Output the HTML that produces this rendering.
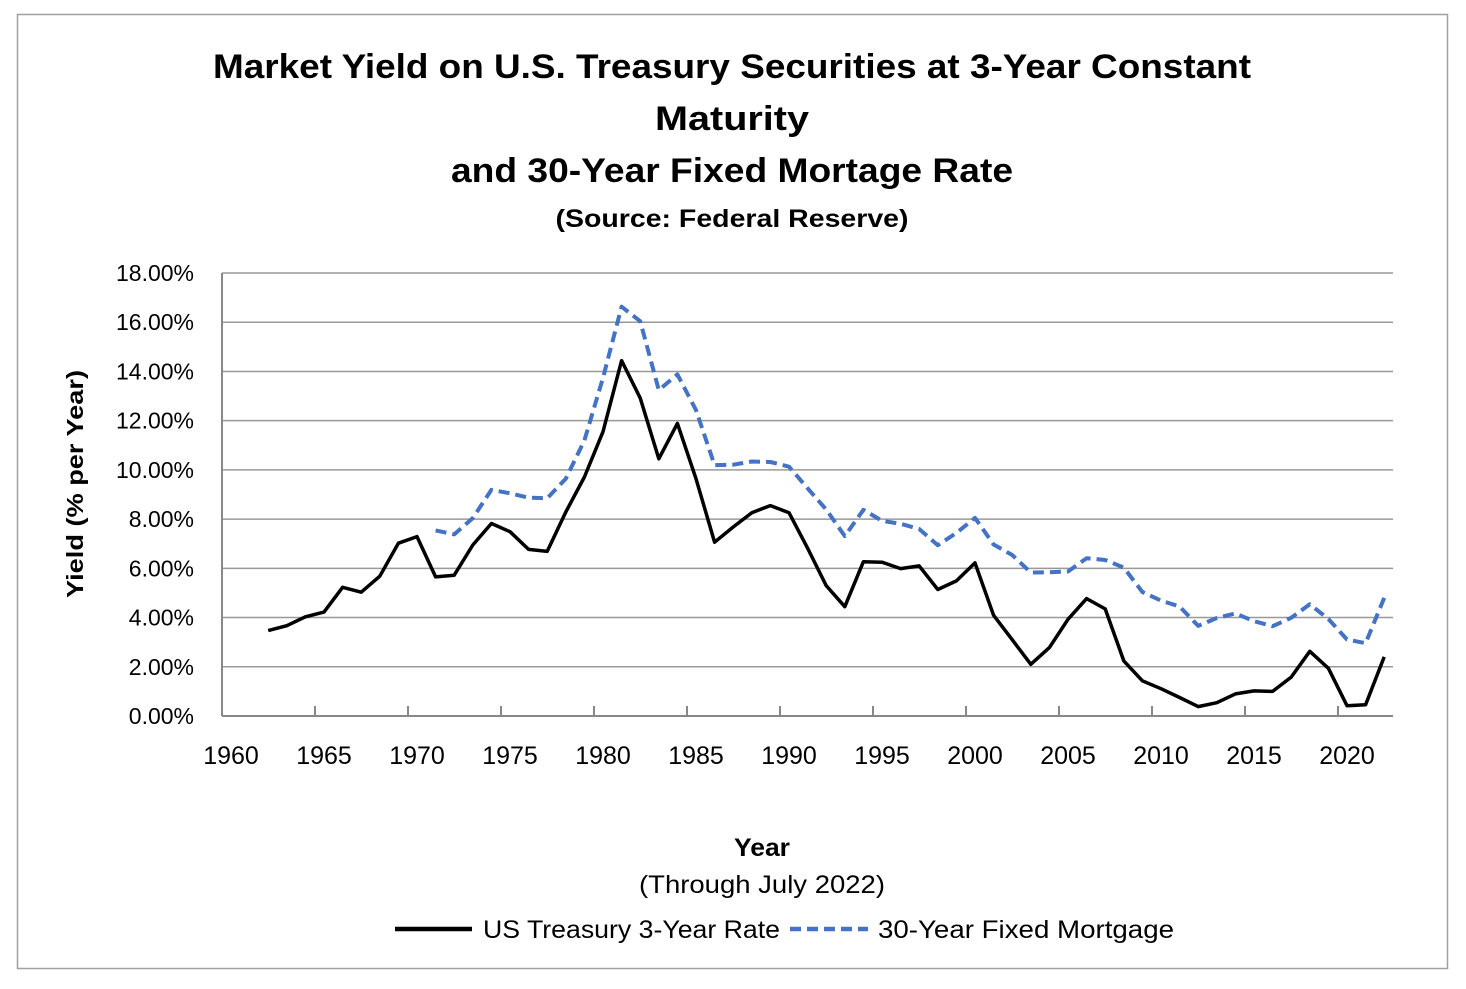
<!DOCTYPE html>
<html><head><meta charset="utf-8"><style>
body{margin:0;background:#fff;}
svg text{font-family:"Liberation Sans",sans-serif;}
</style></head><body>
<svg id="chart" width="1466" height="984" xmlns="http://www.w3.org/2000/svg">
<rect x="17.5" y="14.5" width="1430" height="954" fill="#fff" stroke="#a0a0a0" stroke-width="1.5"/>
<g font-weight="bold" text-anchor="middle" fill="#000">
<text x="732" y="78" font-size="34" textLength="1038" lengthAdjust="spacingAndGlyphs">Market Yield on U.S. Treasury Securities at 3-Year Constant</text>
<text x="732" y="130" font-size="34" textLength="154" lengthAdjust="spacingAndGlyphs">Maturity</text>
<text x="732" y="182" font-size="34" textLength="562" lengthAdjust="spacingAndGlyphs">and 30-Year Fixed Mortage Rate</text>
<text x="732" y="227" font-size="25" textLength="353" lengthAdjust="spacingAndGlyphs">(Source: Federal Reserve)</text>
</g>
<g id="grid"></g>
<g id="yticks"></g>
<g id="xticks"></g>
<g id="series"></g>
<text transform="translate(83,484) rotate(-90)" text-anchor="middle" font-size="23" font-weight="bold" textLength="228" lengthAdjust="spacingAndGlyphs">Yield (% per Year)</text>
<text x="762" y="856" text-anchor="middle" font-size="25" font-weight="bold" textLength="56" lengthAdjust="spacingAndGlyphs">Year</text>
<text x="762" y="893" text-anchor="middle" font-size="25" textLength="246" lengthAdjust="spacingAndGlyphs">(Through July 2022)</text>
<g>
<g>
<line x1="395" y1="929" x2="472" y2="929" stroke="#000" stroke-width="4.5"/>
<text x="483" y="938" font-size="25" textLength="297" lengthAdjust="spacingAndGlyphs">US Treasury 3-Year Rate</text></g>
<g>
<line x1="790" y1="929" x2="868" y2="929" stroke="#4472c4" stroke-width="4.5" stroke-dasharray="11,6"/>
<text x="878" y="938" font-size="25" textLength="296" lengthAdjust="spacingAndGlyphs">30-Year Fixed Mortgage</text></g>
</g>
</svg>
<script>
const treasuryYears=[1962,1963,1964,1965,1966,1967,1968,1969,1970,1971,1972,1973,1974,1975,1976,1977,1978,1979,1980,1981,1982,1983,1984,1985,1986,1987,1988,1989,1990,1991,1992,1993,1994,1995,1996,1997,1998,1999,2000,2001,2002,2003,2004,2005,2006,2007,2008,2009,2010,2011,2012,2013,2014,2015,2016,2017,2018,2019,2020,2021,2022];
const treasuryValues=[3.47,3.67,4.03,4.22,5.23,5.03,5.68,7.02,7.29,5.65,5.72,6.95,7.82,7.49,6.77,6.69,8.29,9.71,11.55,14.44,12.92,10.45,11.89,9.64,7.06,7.68,8.26,8.55,8.26,6.82,5.30,4.44,6.27,6.25,5.99,6.10,5.14,5.49,6.22,4.09,3.10,2.10,2.78,3.93,4.77,4.35,2.24,1.43,1.11,0.75,0.38,0.54,0.90,1.02,1.00,1.58,2.63,1.94,0.42,0.46,2.40];
const mortgageYears=[1971,1972,1973,1974,1975,1976,1977,1978,1979,1980,1981,1982,1983,1984,1985,1986,1987,1988,1989,1990,1991,1992,1993,1994,1995,1996,1997,1998,1999,2000,2001,2002,2003,2004,2005,2006,2007,2008,2009,2010,2011,2012,2013,2014,2015,2016,2017,2018,2019,2020,2021,2022];
const mortgageValues=[7.54,7.38,8.04,9.19,9.05,8.87,8.85,9.64,11.20,13.74,16.63,16.04,13.24,13.88,12.43,10.19,10.21,10.34,10.32,10.13,9.25,8.39,7.31,8.38,7.93,7.81,7.60,6.94,7.44,8.05,6.97,6.54,5.83,5.84,5.87,6.41,6.34,6.03,5.04,4.69,4.45,3.66,3.98,4.17,3.85,3.65,3.99,4.54,3.94,3.11,2.96,4.80];
const yTicks=[0,2,4,6,8,10,12,14,16,18];
const xTicks=[1960,1965,1970,1975,1980,1985,1990,1995,2000,2005,2010,2015,2020];
const NS="http://www.w3.org/2000/svg";
const L=222,R=1393,T=273,B=716;
function xs(yr){return 231+(yr-1960)*18.6;}
function ys(v){return B-(v/18)*(B-T);}
function mk(tag,attrs,parent){const e=document.createElementNS(NS,tag);for(const k in attrs)e.setAttribute(k,attrs[k]);parent.appendChild(e);return e;}
const grid=document.getElementById('grid'),yt=document.getElementById('yticks'),xt=document.getElementById('xticks'),ser=document.getElementById('series');
yTicks.forEach(v=>{
 const g=mk('line',{x1:L,x2:R,y1:ys(v),y2:ys(v),stroke:v===0?'#888':'#999','stroke-width':v===0?2:1.5},grid);
 
 
 const t=mk('text',{x:194,y:ys(v)+8,'text-anchor':'end','font-size':23},yt);
 t.textContent=v.toFixed(2)+'%';
 
 
});
const ax=mk('line',{x1:L,x2:L,y1:T,y2:B,stroke:'#888','stroke-width':2},grid);


xTicks.forEach(yr=>{
 const tk=mk('line',{x1:xs(yr)-9,x2:xs(yr)-9,y1:B-10,y2:B,stroke:'#888','stroke-width':2},grid);
 
 
 const t=mk('text',{x:xs(yr),y:764,'text-anchor':'middle','font-size':25},xt);
 t.textContent=yr;
 
 
});
function pts(xa,va){return xa.map((y,i)=>xs(y).toFixed(1)+','+ys(va[i]).toFixed(1)).join(' ');}
const m=mk('polyline',{points:pts(mortgageYears,mortgageValues),fill:'none',stroke:'#4472c4','stroke-width':4,'stroke-dasharray':'11,6','stroke-linejoin':'round'},ser);


const t=mk('polyline',{points:pts(treasuryYears,treasuryValues),fill:'none',stroke:'#000','stroke-width':3.5,'stroke-linejoin':'round'},ser);


</script>
</body></html>
